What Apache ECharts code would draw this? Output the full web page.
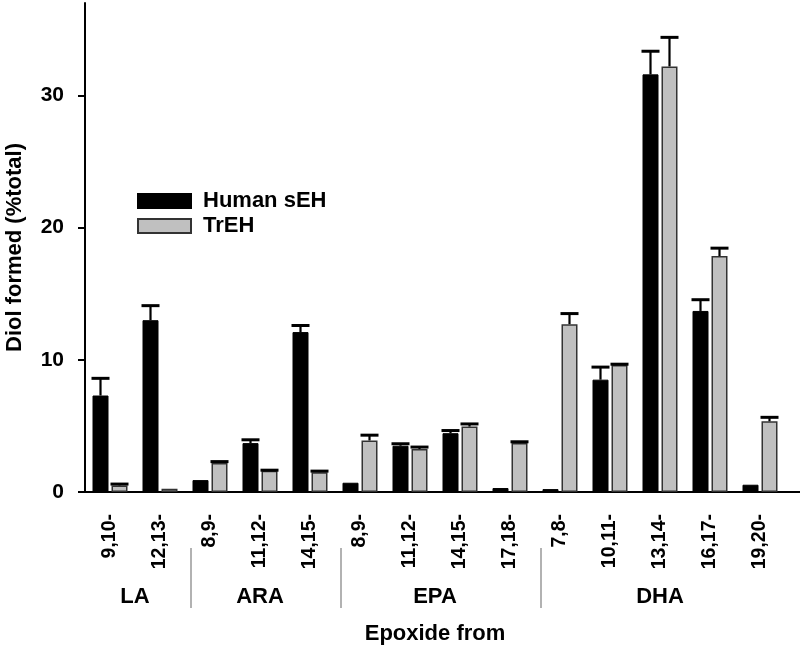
<!DOCTYPE html>
<html><head><meta charset="utf-8">
<script src="https://cdn.jsdelivr.net/npm/echarts@6/dist/echarts.min.js"></script>
<style>html,body{margin:0;padding:0;background:#fff}#c{width:800px;height:649px}</style>
</head><body><div id="c"></div>
<script>
// ---- data ----
const categories = ['9,10-','12,13-','8,9-','11,12-','14,15-','8,9-','11,12-','14,15-','17,18-','7,8-','10,11-','13,14-','16,17-','19,20-'];
const groupNames = ['LA','ARA','EPA','DHA'];
const groupSizes = [2,3,4,5];
const humanSEH    = [7.3, 13.0, 0.9, 3.7, 12.1, 0.7, 3.5, 4.45, 0.3, 0.22, 8.5, 31.6, 13.7, 0.55];
const humanSEHErr = [1.3, 1.1,  0,   0.25, 0.5, 0,   0.15, 0.2, 0,   0,    0.95, 1.75, 0.85, 0];
const trEH        = [0.5, 0.25, 2.2, 1.6, 1.5, 3.9, 3.25, 4.95, 3.7, 12.7, 9.6, 32.2, 17.85, 5.35];
const trEHErr     = [0.1, 0,    0.1, 0.05, 0.08, 0.4, 0.15, 0.2, 0.1, 0.8, 0.07, 2.2, 0.6, 0.3];
const yMax = 37, yInterval = 10;

// ---- style ----
const FONT = "'Liberation Sans', Arial, sans-serif";
const BAR_W = 16, BAR_GAP = 3;
const OFF = (BAR_W + BAR_GAP) / 2;

const chart = echarts.init(document.getElementById('c'), null, {renderer: 'canvas'});

function errSeries(name, vals, errs, dx) {
  return {
    type: 'custom', name: name + ' err', silent: true, z: 5,
    data: vals.map((v, i) => [i, v, errs[i]]),
    renderItem: function (params, api) {
      const e = api.value(2);
      if (!e) return null;
      const top = api.coord([api.value(0), api.value(1) + e]);
      const base = api.coord([api.value(0), api.value(1)]);
      const x = top[0] + dx;
      return {
        type: 'group', children: [
          {type: 'line', shape: {x1: x, y1: base[1], x2: x, y2: top[1]}, style: {stroke: '#000', lineWidth: 2.2}},
          {type: 'line', shape: {x1: x - BAR_W / 2 - 1, y1: top[1], x2: x + BAR_W / 2 + 1, y2: top[1]}, style: {stroke: '#000', lineWidth: 3}}
        ]
      };
    }
  };
}

const option = {
  backgroundColor: '#fff',
  animation: false,
  grid: {left: 85, right: 15, top: 3, bottom: 157, containLabel: false, outerBoundsMode: 'none'},
  legend: {
    left: 137, top: 190, padding: 0, orient: 'vertical', itemWidth: 53, itemHeight: 14, itemGap: 3,
    icon: 'rect',
    data: ['Human sEH', 'TrEH'],
    textStyle: {fontFamily: FONT, fontWeight: 'bold', fontSize: 22, color: '#000', padding: [0, 0, 0, 7]}
  },
  xAxis: {
    type: 'category', data: categories,
    name: 'Epoxide from', nameLocation: 'middle', nameGap: 131,
    nameTextStyle: {fontFamily: FONT, fontWeight: 'bold', fontSize: 22, color: '#000'},
    axisLine: {lineStyle: {color: '#000', width: 2}},
    axisTick: {alignWithLabel: true, length: 8, lineStyle: {color: '#000', width: 2}},
    axisLabel: {rotate: 90, margin: 22, interval: 0, fontFamily: FONT, fontWeight: 'bold', fontSize: 19.5, color: '#000'},
    splitLine: {show: false}
  },
  yAxis: {
    type: 'value', min: 0, max: yMax, interval: yInterval,
    name: 'Diol formed (%total)', nameLocation: 'middle', nameGap: 59,
    nameTextStyle: {fontFamily: FONT, fontWeight: 'bold', fontSize: 22, color: '#000'},
    axisLine: {show: true, lineStyle: {color: '#000', width: 2}},
    axisTick: {show: true, length: 7, lineStyle: {color: '#000', width: 2}},
    axisLabel: {margin: 21, fontFamily: FONT, fontWeight: 'bold', fontSize: 21, color: '#000',
      showMaxLabel: false},
    splitLine: {show: false}
  },
  series: [
    {type: 'bar', name: 'Human sEH', data: humanSEH, barWidth: BAR_W, barGap: (BAR_GAP / BAR_W * 100) + '%',
     itemStyle: {color: '#000', borderColor: '#000', borderWidth: 1}},
    {type: 'bar', name: 'TrEH', data: trEH, barWidth: BAR_W,
     itemStyle: {color: '#c0c0c0', borderColor: '#333', borderWidth: 1.5}},
    errSeries('Human sEH', humanSEH, humanSEHErr, -OFF),
    errSeries('TrEH', trEH, trEHErr, OFF)
  ]
};
chart.setOption(option);

// group labels and separators, positioned through the category axis
const graphics = [];
const axisY = chart.convertToPixel({yAxisIndex: 0}, 0);
let start = 0;
groupSizes.forEach((n, g) => {
  const x0 = chart.convertToPixel({xAxisIndex: 0}, start);
  const x1 = chart.convertToPixel({xAxisIndex: 0}, start + n - 1);
  graphics.push({type: 'text', x: (x0 + x1) / 2, y: axisY + 105,
    style: {text: groupNames[g], font: 'bold 22px ' + FONT, fill: '#000', align: 'center', verticalAlign: 'middle'}});
  if (g < groupSizes.length - 1) {
    const xa = chart.convertToPixel({xAxisIndex: 0}, start + n - 1);
    const xb = chart.convertToPixel({xAxisIndex: 0}, start + n);
    const xs = (xa + xb) / 2 + 6;
    graphics.push({type: 'line', shape: {x1: xs, y1: axisY + 56, x2: xs, y2: axisY + 116},
      style: {stroke: '#999', lineWidth: 1.5}});
  }
  start += n;
});
// extend the x-axis baseline to the right edge like the original
const xEnd = chart.getWidth() - 15;
graphics.push({type: 'line', shape: {x1: xEnd, y1: axisY, x2: chart.getWidth(), y2: axisY}, style: {stroke: '#000', lineWidth: 2}});
chart.setOption({graphic: graphics});
</script>
</body></html>
